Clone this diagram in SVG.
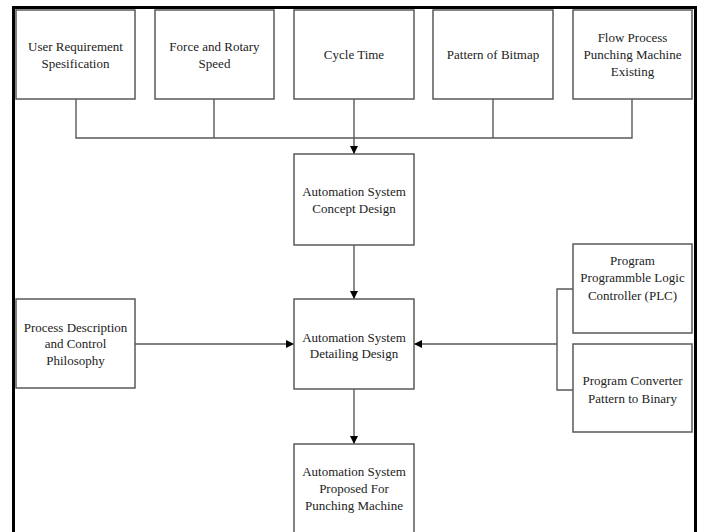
<svg xmlns="http://www.w3.org/2000/svg" width="702" height="532" viewBox="0 0 702 532">
<style>
.box{fill:#fff;stroke:#595959;stroke-width:1.5}
.t{font-family:"Liberation Serif","Times New Roman",serif;font-size:13px;fill:#222;text-anchor:middle}
.c{fill:none;stroke:#595959;stroke-width:1.4}
.frame{fill:none;stroke:#000;stroke-width:3}
</style>
<defs>
<marker id="ah" markerWidth="8" markerHeight="8" refX="8" refY="4" orient="auto" markerUnits="userSpaceOnUse">
<path d="M0,0 L8,4 L0,8 Z" fill="#000"/>
</marker>
</defs>
<rect width="702" height="532" fill="#fff"/>
<path class="frame" d="M13.5,540 V7.5 H695.5 V540"/>
<g id="connectors">
<path class="c" d="M76,99 V138 H632 V99 M214,99 V138 M493,99 V138"/>
<path class="c" d="M354,99 V154" marker-end="url(#ah)"/>
<path class="c" d="M354,245 V299" marker-end="url(#ah)"/>
<path class="c" d="M354,389 V444" marker-end="url(#ah)"/>
<path class="c" d="M135,344 H294" marker-end="url(#ah)"/>
<path class="c" d="M573,289 H557 V390 H573"/>
<path class="c" d="M557,344 H414" marker-end="url(#ah)"/>
</g>
<g id="n1"><rect class="box" x="16" y="10" width="119" height="89"/><text class="t" x="75.5" y="51">User Requirement</text><text class="t" x="75.5" y="68">Spesification</text></g>
<g id="n2"><rect class="box" x="155" y="10" width="119" height="89"/><text class="t" x="214.5" y="51">Force and Rotary</text><text class="t" x="214.5" y="68">Speed</text></g>
<g id="n3"><rect class="box" x="294" y="10" width="120" height="89"/><text class="t" x="354" y="59">Cycle Time</text></g>
<g id="n4"><rect class="box" x="433" y="10" width="120" height="89"/><text class="t" x="493" y="59">Pattern of Bitmap</text></g>
<g id="n5"><rect class="box" x="573" y="10" width="119" height="89"/><text class="t" x="632.5" y="42">Flow Process</text><text class="t" x="632.5" y="59">Punching Machine</text><text class="t" x="632.5" y="76">Existing</text></g>
<g id="concept"><rect class="box" x="294" y="154" width="120" height="91"/><text class="t" x="354" y="196">Automation System</text><text class="t" x="354" y="213">Concept Design</text></g>
<g id="detailing"><rect class="box" x="294" y="299" width="120" height="90"/><text class="t" x="354" y="342">Automation System</text><text class="t" x="354" y="358">Detailing Design</text></g>
<g id="process"><rect class="box" x="16" y="299" width="119" height="89"/><text class="t" x="75.5" y="332">Process Description</text><text class="t" x="75.5" y="348">and Control</text><text class="t" x="75.5" y="365">Philosophy</text></g>
<g id="plc"><rect class="box" x="573" y="244" width="119" height="89"/><text class="t" x="632.5" y="265">Program</text><text class="t" x="632.5" y="282">Programmble Logic</text><text class="t" x="632.5" y="300">Controller (PLC)</text></g>
<g id="converter"><rect class="box" x="573" y="344" width="119" height="88"/><text class="t" x="632.5" y="385">Program Converter</text><text class="t" x="632.5" y="403">Pattern to Binary</text></g>
<g id="proposed"><rect class="box" x="294" y="444" width="120" height="100"/><text class="t" x="354" y="476">Automation System</text><text class="t" x="354" y="493">Proposed For</text><text class="t" x="354" y="510">Punching Machine</text></g>
</svg>
